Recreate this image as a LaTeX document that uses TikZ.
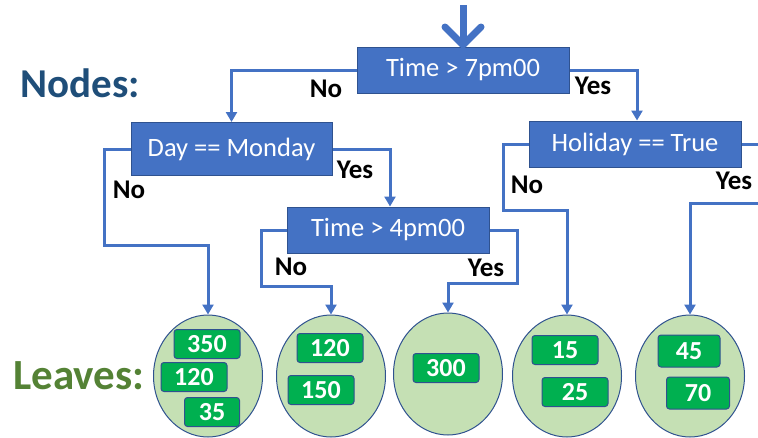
\documentclass[tikz,border=0pt]{standalone}
\usepackage{fontspec}
\setmainfont{Carlito}
\usetikzlibrary{arrows.meta,shapes.geometric}
\definecolor{boxblue}{HTML}{4472C4}
\definecolor{edgeblue}{HTML}{2F528F}
\definecolor{leafgreen}{HTML}{C5E0B4}
\definecolor{valgreen}{HTML}{00B050}
\definecolor{titleblue}{HTML}{1F4E79}
\definecolor{titlegreen}{HTML}{548235}
\begin{document}
\begin{tikzpicture}[x=1pt,y=-1pt,
  test/.style={draw=edgeblue,line width=1pt,fill=boxblue,text=white,minimum height=46pt,inner sep=0pt,font=\fontsize{26.5}{30}\selectfont},
  link/.style={draw=boxblue,line width=3pt,-{Triangle[width=11pt,length=10pt]}},
  leaf/.style={ellipse,draw=edgeblue,line width=1pt,fill=leafgreen,minimum width=109pt,minimum height=122pt},
  val/.style={rounded corners=3pt,draw=edgeblue,line width=1pt,fill=valgreen,text=white,minimum width=66pt,minimum height=29pt,inner sep=0pt,font=\bfseries\fontsize{26}{28}\selectfont},
  ans/.style={font=\bfseries\fontsize{27}{30}\selectfont}]
\clip (0,0) rectangle (758,437);

% titles
\node[titleblue,font=\bfseries\fontsize{41}{44}\selectfont] (nodes) at (80,83) {Nodes:};
\node[titlegreen,font=\bfseries\fontsize{43}{46}\selectfont] (leaves) at (79,376) {Leaves:};

% tests
\node[test,minimum width=212pt] (t7) at (463,70) {Time > 7pm00};
\node[test,minimum width=201pt,minimum height=53pt] (day) at (231.5,149) {Day == Monday};
\node[test,minimum width=212pt] (hol) at (635,144) {Holiday == True};
\node[test,minimum width=202pt] (t4) at (388,230) {Time > 4pm00};

% leaves
\node[leaf] (l1) at (208,376) {};
\node[leaf] (l2) at (331,376) {};
\node[leaf] (l3) at (448,374) {};
\node[leaf] (l4) at (567,376) {};
\node[leaf] (l5) at (690,376) {};

\node[val] (v350) at (207,344) {350};
\node[val] (v120a) at (194,377) {120};
\node[val,minimum width=55pt] (v35) at (212,412) {35};
\node[val] (v120b) at (330,348) {120};
\node[val] (v150) at (321,390) {150};
\node[val] (v300) at (446,368) {300};
\node[val] (v15) at (565,350) {15};
\node[val] (v25) at (575,392) {25};
\node[val,minimum width=62pt,minimum height=32pt] (v45) at (689,351) {45};
\node[val,minimum width=63pt,minimum height=32pt] (v70) at (698,393) {70};

% bends
\coordinate (start) at (463,5);
\coordinate (b1) at (104,245);
\coordinate (b2) at (261,286);
\coordinate (b3) at (517,283);
\coordinate (b4) at (503,210);
\coordinate (b5) at (790,203);

\draw[boxblue,line width=7pt,-{Straight Barb[length=18pt,width=36pt,round]}] (start) -- ([yshift=-2pt]t7.north);
\draw[link] (t7.west) -| (day.north);
\draw[link] (t7.east) -| ([xshift=2pt]hol.north);
\draw[link] (day.west) -| (b1) -| (l1.north);
\draw[link] (day.east) -| ([xshift=2pt]t4.north);
\draw[link] (t4.west) -| (b2) -| (l2.north);
\draw[link] (t4.east) -| (b3) -| (l3.north);
\draw[link] (hol.west) -| (b4) -| (l4.north);
\draw[link] (hol.east) -| (b5) -| (l5.north);

% answers
\node[ans] (n1) at (326,89) {No};
\node[ans] (y1) at (593,86) {Yes};
\node[ans] (n2) at (129,190) {No};
\node[ans] (y2) at (355,170) {Yes};
\node[ans] (n3) at (291,267) {No};
\node[ans] (y3) at (486,268) {Yes};
\node[ans] (n4) at (527,185) {No};
\node[ans] (y4) at (734,181) {Yes};
\end{tikzpicture}
\end{document}
